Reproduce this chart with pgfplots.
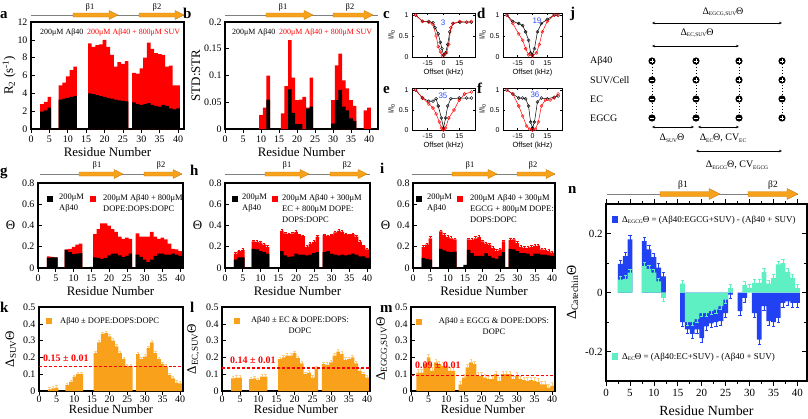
\documentclass[border=0pt]{standalone}
\usepackage{pgfplots}
\pgfplotsset{compat=1.18}
\usetikzlibrary{arrows.meta}
\usepackage{fontspec}
\setmainfont{Liberation Serif}
\setsansfont{Liberation Sans}
\definecolor{barorange}{HTML}{F9A11B}
\definecolor{errorange}{HTML}{FFCF80}
\definecolor{nblue}{HTML}{2141F2}
\definecolor{nteal}{HTML}{5EF0C3}
\definecolor{numblue}{HTML}{2E4BFF}
\newcommand\sub[1]{{\fontsize{5.5}{6}\selectfont\raisebox{-1.5bp}{#1}}}
\pgfplotsset{
 base/.style={scale only axis, anchor=north west, enlargelimits=false,
   axis line style={line width=1.1pt}, tick style={black,line width=0.6pt},
   major tick length=3.5bp, minor tick length=2bp, tick align=inside,
   /pgf/number format/assume math mode=true,
   tick label style={font=\fontsize{10}{11}\selectfont},
   label style={font=\fontsize{13}{14}\selectfont}},
 bars/.style={base, ybar, bar width=1, xmin=0, xmax=41, ymin=0,
   xtick={0,5,...,40}, xtick pos=left, ytick pos=left, xlabel={Residue Number},
   xlabel style={yshift=2bp}},
 B/.style={fill=#1, draw=none, bar shift=0pt},
 cest/.style={base, xmin=-30, xmax=30, ymin=0, ymax=1.05, xtick={-15,0,15}, ytick={0,0.5,1},
   tick label style={font=\sffamily\fontsize{7}{8}\selectfont},
   label style={font=\sffamily\fontsize{7.5}{8}\selectfont},
   xlabel={Offset (kHz)}, ylabel={I/I\textsubscript{0}},
   axis line style={line width=0.8pt}, major tick length=2bp,
   xlabel style={yshift=3bp}, ylabel style={yshift=-3bp}},
 Cb/.style={black, line width=0.5pt, mark=o, mark size=1.5pt, mark options={line width=0.4pt}},
 Cr/.style={red, line width=0.5pt, mark=o, mark size=1.5pt, mark options={line width=0.4pt}},
 EO/.style={error bars/.cd, y dir=plus, y fixed=#1, error bar style={errorange,line width=0.4pt}, error mark options={rotate=90,errorange,mark size=1.2pt,line width=0.4pt}},
 ER/.style={error bars/.cd, y dir=plus, y fixed=#1, error bar style={red,line width=0.4pt}, error mark options={rotate=90,red,mark size=1.2pt,line width=0.4pt}},
 DL/.style={draw=red, color=red, dashed, dash pattern=on 3pt off 2pt, line width=1.1pt, sharp plot, forget plot, mark=none},
 bottomrow/.style={xticklabel style={inner sep=1.5bp}, xlabel style={yshift=-2bp, inner sep=0pt, font=\fontsize{12.5}{13}\selectfont}},
}
\newcommand\barrow[6]{\filldraw[fill={rgb,255:red,247;green,162;blue,27},draw={rgb,255:red,200;green,120;blue,10},line width=0.3pt] (#1,#3-#4) -- (#2-#6,#3-#4) -- (#2-#6,#3-#5) -- (#2,#3) -- (#2-#6,#3+#5) -- (#2-#6,#3+#4) -- (#1,#3+#4) -- cycle;}
\newcommand\pc[2]{\fill (#1,#2) circle (3.6bp); \draw[white,line width=0.9pt] (#1-2,#2)--(#1+2,#2) (#1,#2-2)--(#1,#2+2);}
\newcommand\mc[2]{\fill (#1,#2) circle (3.6bp); \draw[white,line width=0.9pt] (#1-2,#2)--(#1+2,#2);}
\begin{document}
\begin{tikzpicture}
\useasboundingbox (0,0) rectangle (808bp,-419bp);
% ---------- a
\begin{axis}[bars, at={(31bp,-22bp)}, width=153bp, height=107bp, xmax=41.6, ymax=12, ytick={0,2,...,12}, ylabel={R\textsubscript{2} (s\textsuperscript{-1})}, ylabel shift=-5bp]
\addplot[B=red] coordinates {(3,2.8)(4,3.05)(5,3.6)(8,4.9)(9,5.2)(10,5.9)(11,6.6)(12,7.0)(16,9.6)(17,9.2)(18,9.4)(19,9.5)(20,10.0)(21,9.2)(22,8.3)(23,7.0)(24,7.5)(25,7.3)(26,7.6)(28,6.3)(29,6.2)(30,6.8)(31,8.0)(32,9.7)(33,9.0)(34,8.5)(35,8.4)(36,8.3)(37,7.0)(38,7.1)(39,4.9)(40,4.9)};
\addplot[B=black] coordinates {(3,1.95)(4,2.1)(5,2.4)(8,3.3)(9,3.4)(10,3.5)(11,3.6)(12,3.7)(16,4.0)(17,3.9)(18,3.8)(19,3.7)(20,3.6)(21,3.5)(22,3.4)(23,3.3)(24,3.2)(25,3.15)(26,3.1)(28,3.0)(29,2.8)(30,2.7)(31,2.8)(32,2.9)(33,2.7)(34,2.6)(35,2.5)(36,2.7)(37,2.6)(38,2.3)(39,2.2)(40,2.3)};
\end{axis}
% ---------- b
\begin{axis}[bars, at={(225bp,-22bp)}, width=153bp, height=107bp, xmax=42.5, ymax=0.2, ytick={0,0.05,...,0.2}, ylabel={STD:STR}, ylabel shift=-3bp, yticklabel style={/pgf/number format/fixed}]
\addplot[B=red] coordinates {(10,0.026)(11,0.04)(12,0.1)(16,0.029)(17,0.08)(18,0.166)(19,0.096)(20,0.054)(21,0.055)(22,0.06)(23,0.04)(24,0.096)(30,0.054)(31,0.119)(32,0.141)(33,0.091)(34,0.076)(35,0.054)(36,0.043)(39,0.035)(40,0.04)};
\addplot[B=black] coordinates {(12,0.055)(18,0.074)(19,0.03)(20,0.009)(21,0.009)(23,0.038)(24,0.042)(30,0.01)(31,0.054)(32,0.073)(33,0.042)(34,0.035)(35,0.02)(36,0.015)};
\end{axis}
% ---------- c
\begin{axis}[cest, at={(412bp,-13bp)}, width=63bp, height=44bp]
\addplot[Cb] coordinates {(-26.5,1.0)(-20,0.85)(-14,0.85)(-10,0.82)(-8,0.7)(-5,0.55)(-3,0.35)(-1.5,0.2)(0,0.05)(2,0.1)(4,0.3)(6,0.6)(9,0.8)(15.5,0.83)(22,0.83)(26.5,0.83)};
\addplot[Cr] coordinates {(-26.5,1.0)(-20,0.85)(-14,0.83)(-10,0.78)(-7,0.5)(-5,0.25)(-3,0.12)(-1,0.03)(1,0.05)(3,0.1)(5,0.3)(7,0.7)(9,0.8)(15.5,0.85)(22,0.83)(26.5,0.85)};
\end{axis}
% ---------- d
\begin{axis}[cest, at={(503bp,-13bp)}, width=59bp, height=44bp]
\addplot[Cb] coordinates {(-26,1.0)(-20,0.85)(-14,0.8)(-10,0.75)(-7,0.6)(-4,0.4)(-2,0.1)(0,0.05)(2,0.2)(5,0.6)(9,0.8)(15,0.9)(22,1.0)(26,1.0)};
\addplot[Cr] coordinates {(-26,1.0)(-20,0.8)(-14,0.55)(-10,0.4)(-7,0.2)(-4,0.05)(0,0.02)(4,0.1)(7,0.3)(10,0.6)(15,0.85)(22,1.0)(26,1.0)};
\end{axis}
% ---------- e
\begin{axis}[cest, at={(412bp,-88bp)}, width=63bp, height=42bp]
\addplot[Cb] coordinates {(-26.5,1.0)(-20,0.8)(-14,0.72)(-10,0.72)(-7,0.78)(-5,0.6)(-2,0.3)(0,0.05)(2,0.3)(4,0.6)(7,0.78)(15,0.8)(22,0.8)(26.5,0.8)};
\addplot[Cr] coordinates {(-26.5,1.0)(-20,0.8)(-14,0.65)(-10,0.55)(-7,0.4)(-4,0.2)(-2,0.05)(0,0.0)(2,0.05)(5,0.3)(10,0.5)(15,0.75)(20,0.9)(26.5,0.95)};
\end{axis}
% ---------- f
\begin{axis}[cest, at={(503bp,-88bp)}, width=59bp, height=42bp]
\addplot[Cb] coordinates {(-26,1.0)(-20,0.9)(-14,0.8)(-10,0.8)(-7,0.78)(-4,0.6)(-2,0.2)(0,0.05)(2,0.2)(5,0.7)(9,0.8)(15,0.78)(22,0.82)(26,0.85)};
\addplot[Cr] coordinates {(-26,1.0)(-20,0.9)(-14,0.6)(-10,0.35)(-6,0.1)(-3,0.02)(0,0.0)(3,0.02)(6,0.2)(9,0.6)(13,0.75)(18,0.75)(22,0.8)(26,0.9)};
\end{axis}
% ---------- g
\begin{axis}[bars, at={(38bp,-183bp)}, width=145bp, height=85bp, xmax=40.8, ymax=0.8, ytick={0,0.2,...,0.8}, ylabel={Θ}, ylabel style={rotate=-90}]
\addplot[B=red] coordinates {(3,0.11)(4,0.105)(5,0.1)(8,0.175)(9,0.18)(10,0.2)(11,0.22)(12,0.23)(16,0.32)(17,0.365)(18,0.42)(19,0.42)(20,0.4)(21,0.365)(22,0.34)(23,0.295)(24,0.275)(25,0.285)(26,0.275)(28,0.325)(29,0.295)(30,0.295)(31,0.295)(32,0.34)(33,0.295)(34,0.275)(35,0.285)(36,0.27)(37,0.23)(38,0.18)(39,0.175)(40,0.16)};
\addplot[B=black] coordinates {(3,0.095)(4,0.1)(5,0.1)(8,0.17)(9,0.15)(10,0.13)(11,0.135)(12,0.14)(15,0.01)(16,0.1)(17,0.095)(18,0.085)(19,0.095)(20,0.12)(21,0.135)(22,0.135)(23,0.12)(24,0.105)(25,0.115)(26,0.135)(28,0.125)(29,0.105)(30,0.08)(31,0.055)(32,0.08)(33,0.115)(34,0.135)(35,0.135)(36,0.125)(37,0.125)(38,0.135)(39,0.125)(40,0.115)};
\end{axis}
% ---------- h
\begin{axis}[bars, at={(225bp,-183bp)}, width=145bp, height=85bp, xmax=40.8, ymax=0.8, ytick={0,0.2,...,0.8}, ylabel={Θ}, ylabel style={rotate=-90}]
\addplot[B=red, ER=0.012] coordinates {(3,0.135)(4,0.16)(5,0.17)(8,0.25)(9,0.245)(10,0.24)(11,0.22)(12,0.2)(16,0.35)(17,0.325)(18,0.32)(19,0.325)(20,0.34)(21,0.31)(22,0.3)(23,0.2)(24,0.23)(25,0.245)(26,0.295)(28,0.31)(29,0.3)(30,0.31)(31,0.335)(32,0.35)(33,0.34)(34,0.32)(35,0.31)(36,0.32)(37,0.295)(38,0.245)(39,0.205)(40,0.175)};
\addplot[B=black] coordinates {(3,0.08)(4,0.1)(5,0.1)(8,0.18)(9,0.175)(10,0.16)(11,0.15)(12,0.135)(16,0.16)(17,0.12)(18,0.105)(19,0.11)(20,0.135)(21,0.125)(22,0.125)(23,0.12)(24,0.125)(25,0.14)(26,0.15)(28,0.15)(29,0.16)(30,0.135)(31,0.125)(32,0.12)(33,0.125)(34,0.12)(35,0.125)(36,0.135)(37,0.125)(38,0.11)(39,0.11)(40,0.095)};
\end{axis}
% ---------- i
\begin{axis}[bars, at={(413bp,-183bp)}, width=142bp, height=85bp, xmax=40.8, ymax=0.8, ytick={0,0.2,...,0.8}, ylabel={Θ}, ylabel style={rotate=-90}]
\addplot[B=red, ER=0.015] coordinates {(3,0.2)(4,0.22)(5,0.28)(8,0.345)(9,0.31)(10,0.29)(11,0.28)(12,0.27)(16,0.27)(17,0.265)(18,0.28)(19,0.29)(20,0.25)(21,0.23)(22,0.22)(23,0.19)(24,0.16)(25,0.175)(26,0.25)(28,0.265)(29,0.27)(30,0.235)(31,0.2)(32,0.19)(33,0.19)(34,0.2)(35,0.205)(36,0.21)(37,0.175)(38,0.17)(39,0.16)(40,0.145)};
\addplot[B=black] coordinates {(3,0.095)(4,0.085)(5,0.08)(8,0.18)(9,0.165)(10,0.155)(11,0.15)(12,0.155)(15,0.03)(16,0.17)(17,0.14)(18,0.115)(19,0.115)(20,0.115)(21,0.14)(22,0.115)(23,0.095)(24,0.085)(25,0.115)(26,0.15)(28,0.18)(29,0.175)(30,0.16)(31,0.14)(32,0.14)(33,0.135)(34,0.115)(35,0.135)(36,0.135)(37,0.125)(38,0.125)(39,0.12)(40,0.115)};
\end{axis}
% ---------- k
\begin{axis}[bars, bottomrow, at={(39bp,-307bp)}, width=144bp, height=84bp, xmax=40.8, ymax=0.5, ytick={0,0.1,...,0.5}, ylabel={Δ\textsubscript{SUV}Θ}]
\addplot[B=barorange, EO=0.012] coordinates {(3,0.01)(4,0.015)(5,0.02)(8,0.035)(9,0.055)(10,0.085)(11,0.1)(12,0.1)(16,0.225)(17,0.29)(18,0.34)(19,0.345)(20,0.325)(21,0.3)(22,0.265)(23,0.225)(24,0.19)(25,0.15)(26,0.15)(28,0.22)(29,0.19)(30,0.205)(31,0.255)(32,0.29)(33,0.225)(34,0.19)(35,0.16)(36,0.145)(37,0.095)(38,0.075)(39,0.05)(40,0.045)};
\addplot[DL] coordinates {(0,0.147)(40.8,0.147)};
\end{axis}
% ---------- l
\begin{axis}[bars, bottomrow, at={(222bp,-307bp)}, width=148bp, height=84bp, xmax=40.8, ymax=0.5, ytick={0,0.1,...,0.5}, ylabel={Δ\textsubscript{EC,SUV}Θ}]
\addplot[B=barorange, EO=0.014] coordinates {(3,0.075)(4,0.078)(5,0.08)(8,0.07)(9,0.075)(10,0.065)(11,0.085)(12,0.085)(16,0.19)(17,0.2)(18,0.21)(19,0.21)(20,0.225)(21,0.195)(22,0.165)(23,0.1)(24,0.11)(25,0.08)(26,0.135)(28,0.16)(29,0.155)(30,0.17)(31,0.21)(32,0.235)(33,0.22)(34,0.185)(35,0.19)(36,0.2)(37,0.165)(38,0.12)(39,0.1)(40,0.08)};
\addplot[DL] coordinates {(0,0.137)(40.8,0.137)};
\end{axis}
% ---------- m
\begin{axis}[bars, bottomrow, at={(411bp,-307bp)}, width=144bp, height=84bp, xmax=40.8, ymax=0.5, ytick={0,0.1,...,0.5}, ylabel={Δ\textsubscript{EGCG,SUV}Θ}]
\addplot[B=barorange, EO=0.02] coordinates {(2,0.11)(3,0.11)(4,0.16)(5,0.2)(6,0.12)(7,0.17)(8,0.16)(9,0.15)(10,0.15)(11,0.12)(12,0.12)(14,0.04)(15,0.08)(16,0.14)(17,0.17)(18,0.16)(19,0.09)(20,0.09)(21,0.08)(22,0.07)(23,0.07)(24,0.1)(25,0.06)(26,0.1)(27,0.1)(28,0.1)(29,0.07)(30,0.09)(31,0.07)(32,0.065)(33,0.06)(34,0.065)(35,0.06)(36,0.055)(37,0.04)(38,0.04)(39,0.02)(40,0.03)};
\addplot[DL] coordinates {(0,0.092)(40.8,0.092)};
\end{axis}
% ---------- n
\begin{axis}[base, ybar, bar width=1, at={(606bp,-204bp)}, width=201bp, height=177bp, xmin=0, xmax=42, ymin=-0.3, ymax=0.3,
  ytick={-0.2,0,0.2}, minor ytick={-0.1,0.1}, xtick={0,5,...,40}, minor xtick={2.5,7.5,...,40},
  major tick length=5bp, minor tick length=3bp, tick label style={font=\fontsize{11}{12}\selectfont},
  ylabel={Δ\textsubscript{Catechin}Θ}, xlabel={Residue Number}, label style={font=\fontsize{14}{15}\selectfont}, xlabel style={yshift=-2bp}]
\addplot[B=nblue, error bars/.cd, y dir=both, y fixed=0.014, error bar style={nblue,line width=0.4pt}, error mark options={rotate=90,nblue,mark size=1.6pt}] coordinates {(3,0.097)(4,0.123)(5,0.18)(8,0.174)(9,0.146)(10,0.12)(11,0.084)(12,0.055)(16,-0.1)(17,-0.125)(18,-0.14)(19,-0.125)(20,-0.155)(21,-0.115)(22,-0.105)(23,-0.1)(24,-0.097)(25,-0.07)(26,-0.007)(28,-0.063)(29,-0.018)(31,-0.07)(32,-0.16)(33,-0.046)(34,-0.097)(35,-0.1)(36,-0.086)(37,-0.035)(38,-0.03)(39,-0.035)(40,-0.035)};
\addplot[B=nteal, error bars/.cd, y dir=both, y fixed=0.012, error bar style={nteal,line width=0.4pt}, error mark options={rotate=90,nteal,mark size=1.6pt}] coordinates {(3,0.044)(4,0.046)(5,0.067)(8,0.09)(9,0.08)(10,0.067)(11,0.038)(12,-0.018)(16,0.03)(17,-0.1)(18,-0.1)(19,-0.09)(20,-0.07)(21,-0.07)(22,-0.063)(23,-0.058)(24,-0.046)(25,-0.024)(26,0.015)(29,0.025)(30,0.016)(31,0.033)(32,0.033)(33,0.07)(34,0.03)(35,0.05)(36,0.095)(37,0.1)(38,0.07)(39,0.05)(40,0.015)};
\end{axis}
% ---------- decorations
\begin{scope}[x=1bp,y=-1bp]
\tikzset{pl/.style={font=\fontsize{15}{15}\selectfont\bfseries, anchor=base west, inner sep=0}}
\node[pl] at (0,18) {a}; \node[pl] at (183,18) {b}; \node[pl] at (383,18) {c}; \node[pl] at (477,18) {d};
\node[pl] at (383,93) {e}; \node[pl] at (477,93) {f}; \node[pl] at (570,17) {j};
\node[pl] at (0,175) {g}; \node[pl] at (190,175) {h}; \node[pl] at (380,173) {i};
\node[pl] at (0,312) {k}; \node[pl] at (190,312) {l}; \node[pl] at (380,312) {m}; \node[pl] at (568,193) {n};
% beta rows
\tikzset{bl/.style={font=\fontsize{8.5}{9}\selectfont, inner sep=0}}
\draw[gray, line width=0.8pt] (31,15)--(184,15); \barrow{73}{118}{15}{2}{4.5}{9} \barrow{139}{184}{15}{2}{4.5}{9}
\node[bl] at (90,7) {β1}; \node[bl] at (157,7) {β2};
\draw[gray, line width=0.8pt] (225,15)--(378,15); \barrow{266}{313}{15}{2}{4.5}{9} \barrow{333}{373}{15}{2}{4.5}{9}
\node[bl] at (283,7) {β1}; \node[bl] at (350,7) {β2};
\draw[gray, line width=0.8pt] (40,174)--(182,174); \barrow{79}{123}{174}{2}{4.5}{9} \barrow{144}{182}{174}{2}{4.5}{9}
\node[bl] at (97,165) {β1}; \node[bl] at (161,165) {β2};
\draw[gray, line width=0.8pt] (225,174)--(370,174); \barrow{265}{309}{174}{2}{4.5}{9} \barrow{330}{367}{174}{2}{4.5}{9}
\node[bl] at (287,165) {β1}; \node[bl] at (347,165) {β2};
\draw[gray, line width=0.8pt] (412,174)--(555,174); \barrow{452}{497}{174}{2}{4.5}{9} \barrow{517}{555}{174}{2}{4.5}{9}
\node[bl] at (470,165) {β1}; \node[bl] at (533,165) {β2};
\draw[gray, line width=0.8pt] (607,194)--(798,194); \barrow{660}{720}{194}{2.5}{5.5}{11} \barrow{748}{798}{194}{2.5}{5.5}{11}
\node[bl, font=\fontsize{9.5}{10}\selectfont] at (683,185) {β1}; \node[bl, font=\fontsize{9.5}{10}\selectfont] at (773,185) {β2};
% legends a, b
\tikzset{lt/.style={font=\fontsize{8}{10}\selectfont, inner sep=0, anchor=west}}
\node[lt] at (40,33) {200μM Aβ40}; \node[lt, red] at (87,33) {200μM Aβ40 + 800μM SUV};
\node[lt] at (232,33) {200μM Aβ40}; \node[lt, red] at (279,33) {200μM Aβ40 + 800μM SUV};
% CEST numbers
\tikzset{cn/.style={font=\sffamily\fontsize{8}{9}\selectfont, numblue, inner sep=0}}
\node[cn] at (443,23) {3}; \node[cn] at (537,21) {19}; \node[cn] at (443,96) {35}; \node[cn] at (535,95) {36};
% legends g h i
\tikzset{lg/.style={font=\fontsize{8.5}{11}\selectfont, inner sep=0, anchor=north west, align=left}}
\fill (47,196) rectangle +(6,6); \node[lg] at (59,194) {200μM\\Aβ40};
\fill[red] (90,196) rectangle +(6,6); \node[lg] at (103,194) {200μM Aβ40 + 800μM\\DOPE:DOPS:DOPC};
\fill (232,196) rectangle +(6,6); \node[lg] at (242,194) {200μM\\Aβ40};
\fill[red] (272,196) rectangle +(6,6); \node[lg] at (282,194) {200μM Aβ40 + 300μM\\EC + 800μM DOPE:\\DOPS:DOPC};
\fill (416,196) rectangle +(6,6); \node[lg] at (427,194) {200μM\\Aβ40};
\fill[red] (457,196) rectangle +(6,6); \node[lg] at (470,194) {200μM Aβ40 + 300μM\\EGCG + 800μM DOPE:\\DOPS:DOPC};
% legends k l m
\fill[barorange] (46,318) rectangle +(6,6); \node[lg, anchor=west] at (60,321) {Aβ40 ± DOPE:DOPS:DOPC};
\fill[barorange] (234,318) rectangle +(6,6); \node[lg, anchor=north, align=center] at (300,316) {Aβ40 ± EC \& DOPE:DOPS:\\DOPC};
\fill[barorange] (416,319) rectangle +(6,6); \node[lg, anchor=north, align=center] at (494,317) {Aβ40 ± EGCG \& DOPE:DOPS:\\DOPC};
\tikzset{dv/.style={font=\fontsize{10}{11}\selectfont\bfseries, red, inner sep=0, anchor=west}}
\node[dv] at (43,358) {0.15 ± 0.01}; \node[dv] at (230,360) {0.14 ± 0.01}; \node[dv] at (415,365) {0.09 ± 0.01};
% legends n
\fill[nblue] (612,216) rectangle +(6,7); \node[lg, anchor=west, font=\fontsize{9}{10}\selectfont] at (622,220) {Δ\sub{EGCG}Θ = (Aβ40:EGCG+SUV) - (Aβ40 + SUV)};
\fill[nteal] (612,353) rectangle +(6,7); \node[lg, anchor=west, font=\fontsize{9}{10}\selectfont] at (622,357) {Δ\sub{EC}Θ = (Aβ40:EC+SUV) - (Aβ40 + SUV)};
% ---------- j
\tikzset{jl/.style={font=\fontsize{10}{11}\selectfont, inner sep=0}}
\node[jl, anchor=west] at (590,61) {Aβ40}; \node[jl, anchor=west] at (590,80) {SUV/Cell};
\node[jl, anchor=west] at (590,99) {EC}; \node[jl, anchor=west] at (590,118) {EGCG};
\foreach \x in {652,696,739,782} {\draw[dashed, line width=0.4pt, dash pattern=on 1.5pt off 1.5pt] (\x,61)--(\x,118);}
\pc{652}{61} \mc{652}{80} \mc{652}{99} \mc{652}{118}
\pc{696}{61} \pc{696}{80} \mc{696}{99} \mc{696}{118}
\pc{739}{61} \pc{739}{80} \pc{739}{99} \mc{739}{118}
\pc{782}{61} \pc{782}{80} \mc{782}{99} \pc{782}{118}
\tikzset{ja/.style={{Stealth[length=3bp,width=2.5bp]}-{Stealth[length=3bp,width=2.5bp]}, line width=0.5pt}}
\draw[ja] (652,23)--(782,23); \node[jl] at (723,12) {Δ\sub{EGCG,SUV}Θ};
\draw[ja] (652,46)--(739,46); \node[jl] at (697,33) {Δ\sub{EC,SUV}Θ};
\draw[ja] (652,127)--(694,127); \draw[ja] (698,127)--(739,127);
\node[jl] at (672,138) {Δ\sub{SUV}Θ}; \node[jl] at (723,138) {Δ\sub{EC}Θ, CV\sub{EC}};
\draw[ja] (696,151)--(782,151); \node[jl] at (737,165) {Δ\sub{EGCG}Θ, CV\sub{EGCG}};
\end{scope}
\end{tikzpicture}
\end{document}
